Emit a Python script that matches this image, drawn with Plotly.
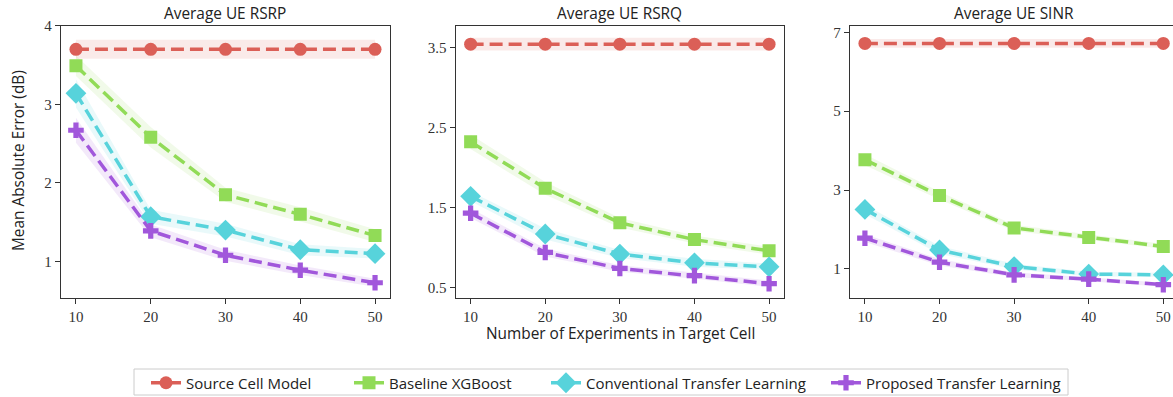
import plotly.graph_objects as go

W, H = 1173, 397

experiments = [10, 20, 30, 40, 50]
panel_titles = ["Average UE RSRP", "Average UE RSRQ", "Average UE SINR"]
series_names = ["Source Cell Model", "Baseline XGBoost",
                "Conventional Transfer Learning", "Proposed Transfer Learning"]
colors = ["#db5f57", "#91db57", "#57d3db", "#a157db"]
symbols = ["circle", "square", "diamond", "cross"]
marker_sizes = [13, 13, 16, 13]

# Mean absolute error (dB) per metric, per model
rsrp_source = [3.70, 3.70, 3.70, 3.70, 3.70]
rsrp_baseline = [3.49, 2.58, 1.85, 1.60, 1.33]
rsrp_conventional = [3.14, 1.57, 1.40, 1.15, 1.10]
rsrp_proposed = [2.67, 1.39, 1.08, 0.89, 0.73]

rsrq_source = [3.54, 3.54, 3.54, 3.54, 3.54]
rsrq_baseline = [2.32, 1.74, 1.31, 1.10, 0.96]
rsrq_conventional = [1.64, 1.17, 0.92, 0.81, 0.76]
rsrq_proposed = [1.43, 0.94, 0.74, 0.65, 0.55]

sinr_source = [6.72, 6.72, 6.72, 6.72, 6.72]
sinr_baseline = [3.77, 2.86, 2.04, 1.80, 1.57]
sinr_conventional = [2.51, 1.48, 1.06, 0.87, 0.85]
sinr_proposed = [1.78, 1.17, 0.85, 0.74, 0.60]

# Spread of the shaded band around each curve
rsrp_spread = [[0.12] * 5, [0.13, 0.13, 0.09, 0.09, 0.08],
               [0.18, 0.09, 0.08, 0.07, 0.06], [0.16, 0.08, 0.07, 0.06, 0.05]]
rsrq_spread = [[0.08] * 5, [0.09, 0.08, 0.06, 0.05, 0.05],
               [0.06, 0.07, 0.05, 0.05, 0.04], [0.06, 0.05, 0.04, 0.04, 0.04]]
sinr_spread = [[0.11] * 5, [0.14, 0.10, 0.08, 0.07, 0.06],
               [0.12, 0.10, 0.07, 0.06, 0.05], [0.10, 0.08, 0.06, 0.05, 0.05]]

panels = [
    [rsrp_source, rsrp_baseline, rsrp_conventional, rsrp_proposed],
    [rsrq_source, rsrq_baseline, rsrq_conventional, rsrq_proposed],
    [sinr_source, sinr_baseline, sinr_conventional, sinr_proposed],
]
spreads = [rsrp_spread, rsrq_spread, sinr_spread]

y_ranges = [[0.54, 4.0], [0.375, 3.77], [0.27, 7.17]]
y_ticks = [[1, 2, 3, 4], [0.5, 1.5, 2.5, 3.5], [1, 3, 5, 7]]
y_ticktext = [["1", "2", "3", "4"], ["0.5", "1.5", "2.5", "3.5"], ["1", "3", "5", "7"]]
x_ranges = [[8, 52], [8, 52], [8, 51.3]]

# Plot areas in pixels (left, right), shared top/bottom
px_x = [(61, 390), (455.7, 784), (850, 1173)]
px_top, px_bottom = 25.7, 297.7

# Legend entries: left edge of each label, in pixels
legend_text_x = [191, 394, 591, 871]

SANS = "Open Sans, Lato, sans-serif"
SERIF = "Liberation Serif, DejaVu Serif, serif"
TEXT_SIZE = 15.4


def rgba(hex_color, a):
    h = hex_color.lstrip("#")
    r, g, b = int(h[0:2], 16), int(h[2:4], 16), int(h[4:6], 16)
    return f"rgba({r},{g},{b},{a})"


fig = go.Figure()

for p, (series, spread) in enumerate(zip(panels, spreads)):
    xa = "x" if p == 0 else f"x{p + 1}"
    ya = "y" if p == 0 else f"y{p + 1}"
    for s, vals in enumerate(series):
        upper = [v + d for v, d in zip(vals, spread[s])]
        lower = [v - d for v, d in zip(vals, spread[s])]
        fig.add_trace(go.Scatter(
            x=experiments + experiments[::-1], y=upper + lower[::-1],
            fill="toself", fillcolor=rgba(colors[s], 0.13),
            line=dict(width=0), mode="lines", hoverinfo="skip",
            showlegend=False, xaxis=xa, yaxis=ya))
    for s, vals in enumerate(series):
        fig.add_trace(go.Scatter(
            x=experiments, y=vals, mode="lines+markers",
            name=series_names[s], showlegend=(p == 0),
            legend="legend" if s == 0 else f"legend{s + 1}",
            line=dict(color=colors[s], width=3.5, dash="13px,6px"),
            marker=dict(symbol=symbols[s], size=marker_sizes[s], color=colors[s],
                        line=dict(width=0)),
            xaxis=xa, yaxis=ya))

axis_common = dict(showline=True, linecolor="#333333", linewidth=1.3,
                   ticks="outside", ticklen=5, tickwidth=1.2, tickcolor="#333333",
                   showgrid=False, zeroline=False,
                   tickfont=dict(family=SERIF, size=15, color="#333333"))

layout = dict(
    width=W, height=H, margin=dict(l=0, r=0, t=0, b=0, autoexpand=False),
    paper_bgcolor="white", plot_bgcolor="white",
    font=dict(family=SANS, color="#222222"),
)

for p in range(3):
    xl, xr = px_x[p]
    xkey = "xaxis" if p == 0 else f"xaxis{p + 1}"
    ykey = "yaxis" if p == 0 else f"yaxis{p + 1}"
    xname = "x" if p == 0 else f"x{p + 1}"
    yname = "y" if p == 0 else f"y{p + 1}"
    layout[xkey] = dict(axis_common, domain=[xl / W, xr / W], range=x_ranges[p],
                        tickvals=experiments, anchor=yname, mirror=True)
    layout[ykey] = dict(axis_common, domain=[1 - px_bottom / H, 1 - px_top / H],
                        range=y_ranges[p], tickvals=y_ticks[p],
                        ticktext=y_ticktext[p], anchor=xname,
                        mirror=(p < 2))

annotations = []
for p in range(3):
    xl, xr = px_x[p]
    cx = (xl + xr) / 2 if p < 2 else (xl + 1178) / 2
    annotations.append(dict(text=panel_titles[p], x=cx / W, y=1 - 14 / H,
                            xref="paper", yref="paper", showarrow=False,
                            xanchor="center", yanchor="middle",
                            font=dict(size=TEXT_SIZE, color="#222222")))
annotations.append(dict(text="Mean Absolute Error (dB)", x=18 / W,
                        y=1 - 161 / H, xref="paper", yref="paper",
                        showarrow=False, textangle=-90, xanchor="center",
                        yanchor="middle", font=dict(size=TEXT_SIZE, color="#222222")))
annotations.append(dict(text="Number of Experiments in Target Cell",
                        x=620 / W, y=1 - 333 / H, xref="paper", yref="paper",
                        showarrow=False, xanchor="center", yanchor="middle",
                        font=dict(size=TEXT_SIZE, color="#222222")))
layout["annotations"] = annotations

# One legend per entry so each label sits at its own position
for s in range(4):
    key = "legend" if s == 0 else f"legend{s + 1}"
    layout[key] = dict(orientation="h", x=(legend_text_x[s] - 45) / W,
                       xanchor="left", y=1 - 383 / H, yanchor="middle",
                       borderwidth=0, bgcolor="rgba(0,0,0,0)",
                       font=dict(size=15, color="#222222"))
layout["showlegend"] = True

# Frame around the legend row
layout["shapes"] = [dict(type="rect", xref="paper", yref="paper",
                         x0=134 / W, x1=1068 / W, y0=1 - 395 / H, y1=1 - 369 / H,
                         line=dict(color="#cccccc", width=1),
                         fillcolor="rgba(0,0,0,0)", layer="below")]

fig.update_layout(**layout)
fig.write_html("out.html")
